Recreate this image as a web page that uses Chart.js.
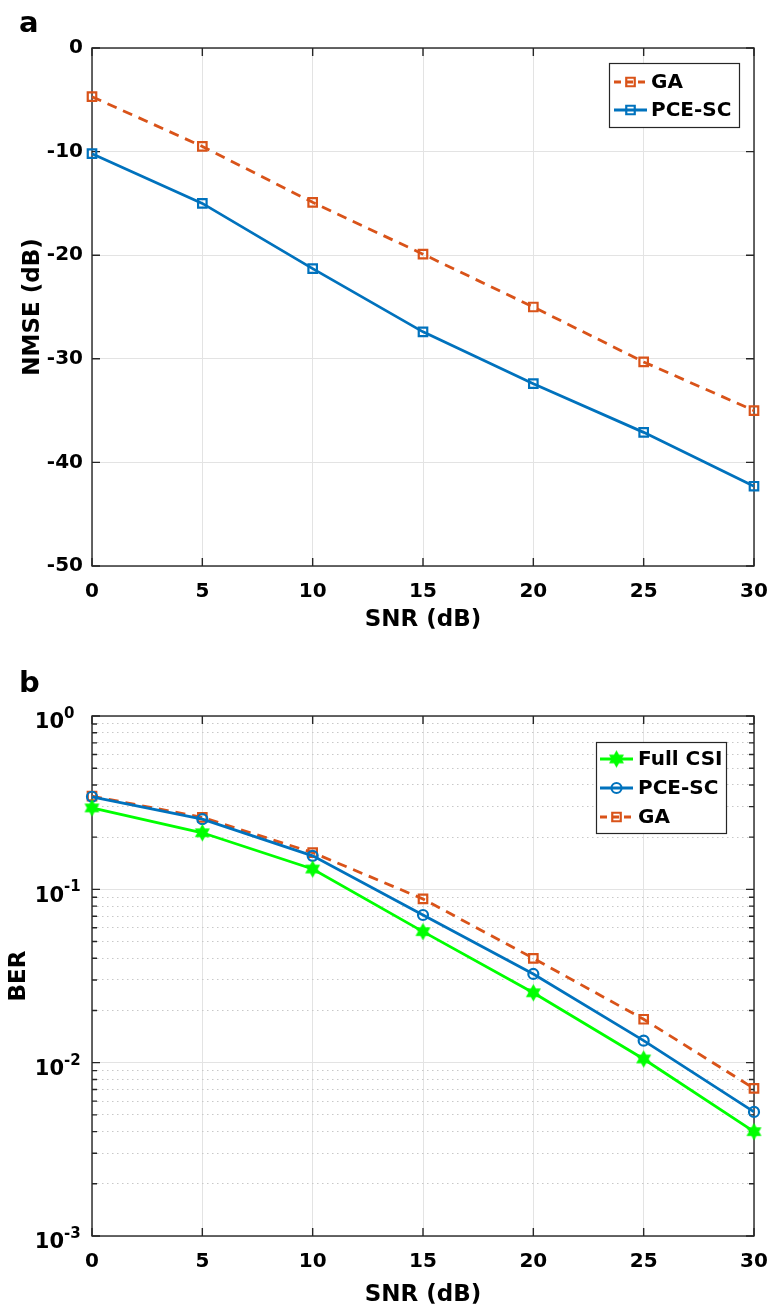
<!DOCTYPE html>
<html><head><meta charset="utf-8">
<script src="https://cdn.jsdelivr.net/npm/chart.js@4.4.1/dist/chart.umd.min.js"></script>
<style>
html,body{margin:0;padding:0;background:#fff;overflow:hidden;}
#wrapA{position:absolute;left:0;top:0;width:769px;height:650px;}
#wrapB{position:absolute;left:0;top:650px;width:769px;height:659px;}
</style></head><body>
<div id="wrapA"><canvas id="chartA"></canvas></div>
<div id="wrapB"><canvas id="chartB"></canvas></div>
<script>
// ---- data ----
const snr = [0, 5, 10, 15, 20, 25, 30];
const nmseGA  = [-4.7, -9.5, -14.9, -19.9, -25.0, -30.3, -35.0];
const nmsePCE = [-10.2, -15.0, -21.3, -27.4, -32.4, -37.1, -42.3];
const berFull = [0.295, 0.212, 0.131, 0.057, 0.0253, 0.0105, 0.0040];
const berPCE  = [0.342, 0.254, 0.156, 0.0711, 0.0325, 0.0134, 0.0052];
const berGA   = [0.345, 0.260, 0.163, 0.088, 0.040, 0.0178, 0.0071];
const snrTicks = [0, 5, 10, 15, 20, 25, 30];
const nmseTicks = [0, -10, -20, -30, -40, -50];
const berDecades = [-3, -2, -1, 0];
const berMinorMult = [2, 3, 4, 5, 6, 7, 8, 9];

// ---- styling ----
const FONT = '"DejaVu Sans", Verdana, sans-serif';
const AXIS = '#262626';
const GRID = '#e3e3e3';
const ORANGE = '#D95319';
const BLUE = '#0072BD';
const GREEN = '#00FF00';
const TICKSIZE = 20;
const TITLESIZE = 23;

const berMajor = berDecades.map(d => Math.pow(10, d));
const berMinor = [];
berDecades.slice(0, -1).forEach(d => berMinorMult.forEach(m => berMinor.push(m * Math.pow(10, d))));
const isMajor = v => Math.abs(Math.log10(v) - Math.round(Math.log10(v))) < 1e-6;

function pts(xs, ys) { return xs.map((x, i) => ({x: x, y: ys[i]})); }

function hexagram(color, R) {
  const c = document.createElement('canvas');
  const size = Math.ceil(2 * R + 4);
  c.width = c.height = size;
  const g = c.getContext('2d');
  const cx = size / 2, cy = size / 2, r = R / Math.sqrt(3);
  g.beginPath();
  for (let k = 0; k < 12; k++) {
    const a = -Math.PI / 2 + k * Math.PI / 6;
    const rad = k % 2 === 0 ? R : r;
    g.lineTo(cx + rad * Math.cos(a), cy + rad * Math.sin(a));
  }
  g.closePath();
  g.fillStyle = color; g.fill();
  g.strokeStyle = color; g.lineWidth = 1.2; g.stroke();
  return c;
}
const starImg = hexagram(GREEN, 7.5);

function drawMarker(ctx, ds, x, y) {
  const st = ds.pointStyle, r = ds.pointRadius;
  ctx.save();
  ctx.lineWidth = ds.pointBorderWidth;
  ctx.strokeStyle = ds.pointBorderColor;
  ctx.fillStyle = ds.pointBackgroundColor;
  if (st instanceof HTMLCanvasElement) {
    ctx.drawImage(st, x - st.width / 2, y - st.height / 2);
  } else if (st === 'rect') {
    const s = Math.SQRT1_2 * r;
    ctx.beginPath(); ctx.rect(x - s, y - s, 2 * s, 2 * s); ctx.fill(); ctx.stroke();
  } else {
    ctx.beginPath(); ctx.arc(x, y, r, 0, Math.PI * 2); ctx.fill(); ctx.stroke();
  }
  ctx.restore();
}

const framePlugin = {
  id: 'frame',
  beforeDatasetsDraw(chart, args, o) {
    const {ctx, chartArea: ca, scales} = chart;
    ctx.save();
    ctx.strokeStyle = AXIS;
    ctx.lineWidth = 1.4;
    ctx.strokeRect(ca.left, ca.top, ca.right - ca.left, ca.bottom - ca.top);
    ctx.beginPath();
    (o.xTicks || []).forEach(v => {
      const p = scales.x.getPixelForValue(v);
      ctx.moveTo(p, ca.bottom); ctx.lineTo(p, ca.bottom - 8);
      ctx.moveTo(p, ca.top); ctx.lineTo(p, ca.top + 8);
    });
    (o.yTicks || []).forEach(v => {
      const p = scales.y.getPixelForValue(v);
      ctx.moveTo(ca.left, p); ctx.lineTo(ca.left + 8, p);
      ctx.moveTo(ca.right, p); ctx.lineTo(ca.right - 8, p);
    });
    (o.yMinor || []).forEach(v => {
      const p = scales.y.getPixelForValue(v);
      ctx.moveTo(ca.left, p); ctx.lineTo(ca.left + 5, p);
      ctx.moveTo(ca.right, p); ctx.lineTo(ca.right - 5, p);
    });
    ctx.stroke();
    ctx.restore();
  }
};

const legendPlugin = {
  id: 'boxLegend',
  afterDraw(chart, args, o) {
    const {ctx, chartArea: ca} = chart;
    const x0 = Math.round(ca.right - o.right - o.width), y0 = Math.round(ca.top + o.top);
    ctx.save();
    ctx.fillStyle = '#fff';
    ctx.fillRect(x0, y0, o.width, o.height);
    ctx.strokeStyle = AXIS; ctx.lineWidth = 1.2;
    ctx.strokeRect(x0 + 0.5, y0 + 0.5, o.width, o.height);
    chart.data.datasets.forEach((ds, i) => {
      const cy = y0 + o.firstRow + i * o.rowGap;
      ctx.strokeStyle = ds.borderColor;
      ctx.lineWidth = ds.borderWidth;
      ctx.setLineDash(ds.legendDash || ds.borderDash || []);
      ctx.beginPath(); ctx.moveTo(x0 + o.lineX0, cy); ctx.lineTo(x0 + o.lineX1, cy); ctx.stroke();
      ctx.setLineDash([]);
      drawMarker(ctx, ds, x0 + (o.lineX0 + o.lineX1) / 2, cy);
      ctx.fillStyle = '#000';
      ctx.font = 'bold 20px ' + FONT;
      ctx.textBaseline = 'middle'; ctx.textAlign = 'left';
      ctx.fillText(ds.label, x0 + o.textX, cy + 1);
    });
    ctx.restore();
  }
};

const panelPlugin = {
  id: 'panelLabel',
  afterDraw(chart, args, o) {
    const ctx = chart.ctx;
    ctx.save();
    ctx.fillStyle = '#000';
    ctx.font = 'bold 29px ' + FONT;
    ctx.textAlign = 'left'; ctx.textBaseline = 'alphabetic';
    ctx.fillText(o.text, o.x, o.y);
    ctx.restore();
  }
};

const logLabelPlugin = {
  id: 'logLabels',
  afterDraw(chart, args, o) {
    if (!o.decades) return;
    const ctx = chart.ctx, sc = chart.scales.y;
    ctx.save();
    ctx.fillStyle = '#000';
    ctx.textBaseline = 'middle';
    o.decades.forEach(d => {
      const p = sc.getPixelForValue(Math.pow(10, d));
      ctx.font = 'bold 21px ' + FONT;
      ctx.textAlign = 'right';
      ctx.fillText('10', 64, p + 7);
      ctx.font = 'bold 15px ' + FONT;
      ctx.textAlign = 'left';
      ctx.fillText(String(d), 64, p - 2);
    });
    ctx.restore();
  }
};

const common = {
  responsive: true,
  maintainAspectRatio: false,
  animation: false,
  events: [],
};

function xScale(h, titlePadBottom) {
  return {
    type: 'linear', min: 0, max: 30,
    afterFit: s => { s.height = h; },
    afterBuildTicks: s => { s.ticks = snrTicks.map(v => ({value: v})); },
    grid: { color: GRID, lineWidth: 1, drawTicks: true, tickLength: 14, tickColor: 'rgba(0,0,0,0)' },
    border: { display: false },
    ticks: { color: '#000', padding: 0, font: { family: FONT, size: TICKSIZE, weight: 'bold' }, maxRotation: 0, autoSkip: false },
    title: { display: true, text: 'SNR (dB)', color: '#000', padding: { top: 0, bottom: titlePadBottom },
             font: { family: FONT, size: TITLESIZE, weight: 'bold' } }
  };
}

// ---------- Chart a ----------
new Chart(document.getElementById('chartA'), {
  type: 'line',
  data: {
    datasets: [
      { label: 'GA', data: pts(snr, nmseGA), borderColor: ORANGE, borderWidth: 2.8, borderDash: [10, 7],
        legendDash: [7, 5], clip: false,
        pointStyle: 'rect', pointRadius: 6, pointBorderWidth: 2.2, pointBorderColor: ORANGE,
        pointBackgroundColor: 'rgba(255,255,255,0)', backgroundColor: 'rgba(0,0,0,0)', tension: 0 },
      { label: 'PCE-SC', data: pts(snr, nmsePCE), borderColor: BLUE, borderWidth: 2.8, clip: false,
        pointStyle: 'rect', pointRadius: 6, pointBorderWidth: 2.2, pointBorderColor: BLUE,
        pointBackgroundColor: 'rgba(255,255,255,0)', backgroundColor: 'rgba(0,0,0,0)', tension: 0 }
    ]
  },
  options: Object.assign({}, common, {
    layout: { padding: { top: 48, right: 15, left: 0, bottom: 0 } },
    scales: {
      x: xScale(84, 16),
      y: {
        type: 'linear', min: -50, max: 0,
        afterFit: s => { s.width = 92; },
        afterBuildTicks: s => { s.ticks = nmseTicks.map(v => ({value: v})); },
        grid: { color: GRID, lineWidth: 1, drawTicks: false },
        border: { display: false },
        ticks: { color: '#000', padding: 9, font: { family: FONT, size: TICKSIZE, weight: 'bold' } },
        title: { display: true, text: 'NMSE (dB)', color: '#000', padding: { top: 19, bottom: 0 },
                 font: { family: FONT, size: TITLESIZE, weight: 'bold' } }
      }
    },
    plugins: {
      legend: { display: false },
      tooltip: { enabled: false },
      frame: { xTicks: snrTicks, yTicks: nmseTicks },
      boxLegend: { width: 130, height: 64, right: 15, top: 15, firstRow: 19, rowGap: 28, lineX0: 5, lineX1: 38, textX: 42 },
      panelLabel: { text: 'a', x: 19, y: 32 }
    }
  }),
  plugins: [framePlugin, legendPlugin, panelPlugin]
});

// ---------- Chart b ----------
new Chart(document.getElementById('chartB'), {
  type: 'line',
  data: {
    datasets: [
      { label: 'Full CSI', data: pts(snr, berFull), borderColor: GREEN, borderWidth: 2.8, clip: false,
        pointStyle: starImg, pointRadius: 7, pointBorderWidth: 1, pointBorderColor: GREEN,
        pointBackgroundColor: GREEN, backgroundColor: 'rgba(0,0,0,0)', tension: 0 },
      { label: 'PCE-SC', data: pts(snr, berPCE), borderColor: BLUE, borderWidth: 2.8, clip: false,
        pointStyle: 'circle', pointRadius: 5, pointBorderWidth: 2.2, pointBorderColor: BLUE,
        pointBackgroundColor: 'rgba(255,255,255,0)', backgroundColor: 'rgba(0,0,0,0)', tension: 0 },
      { label: 'GA', data: pts(snr, berGA), borderColor: ORANGE, borderWidth: 2.8, borderDash: [10, 7],
        legendDash: [7, 5], clip: false,
        pointStyle: 'rect', pointRadius: 6, pointBorderWidth: 2.2, pointBorderColor: ORANGE,
        pointBackgroundColor: 'rgba(255,255,255,0)', backgroundColor: 'rgba(0,0,0,0)', tension: 0 }
    ]
  },
  options: Object.assign({}, common, {
    layout: { padding: { top: 66, right: 15, left: 0, bottom: 0 } },
    scales: {
      x: xScale(73, 0),
      y: {
        type: 'logarithmic', min: 0.001, max: 1,
        afterFit: s => { s.width = 92; },
        afterBuildTicks: s => { s.ticks = berMajor.concat(berMinor).sort((a, b) => a - b).map(v => ({value: v})); },
        grid: { color: c => (c.tick && isMajor(c.tick.value)) ? 'rgba(0,0,0,0)' : '#c8c8c8', lineWidth: 1, drawTicks: false },
        border: { display: false, dash: [1.5, 3.5] },
        ticks: { display: false },
        title: { display: true, text: 'BER', color: '#000', padding: { top: 5, bottom: 0 },
                 font: { family: FONT, size: TITLESIZE, weight: 'bold' } }
      },
      y2: {
        type: 'logarithmic', min: 0.001, max: 1, position: 'right',
        afterFit: s => { s.width = 0; },
        afterBuildTicks: s => { s.ticks = berMajor.map(v => ({value: v})); },
        grid: { color: GRID, lineWidth: 1, drawTicks: false },
        border: { display: false },
        ticks: { display: false }
      }
    },
    plugins: {
      legend: { display: false },
      tooltip: { enabled: false },
      frame: { xTicks: snrTicks, yTicks: berMajor, yMinor: berMinor },
      boxLegend: { width: 130, height: 91, right: 28, top: 26, firstRow: 17, rowGap: 29, lineX0: 4, lineX1: 37, textX: 42 },
      panelLabel: { text: 'b', x: 19, y: 42 },
      logLabels: { decades: berDecades }
    }
  }),
  plugins: [framePlugin, legendPlugin, panelPlugin, logLabelPlugin]
});
</script>
</body></html>
